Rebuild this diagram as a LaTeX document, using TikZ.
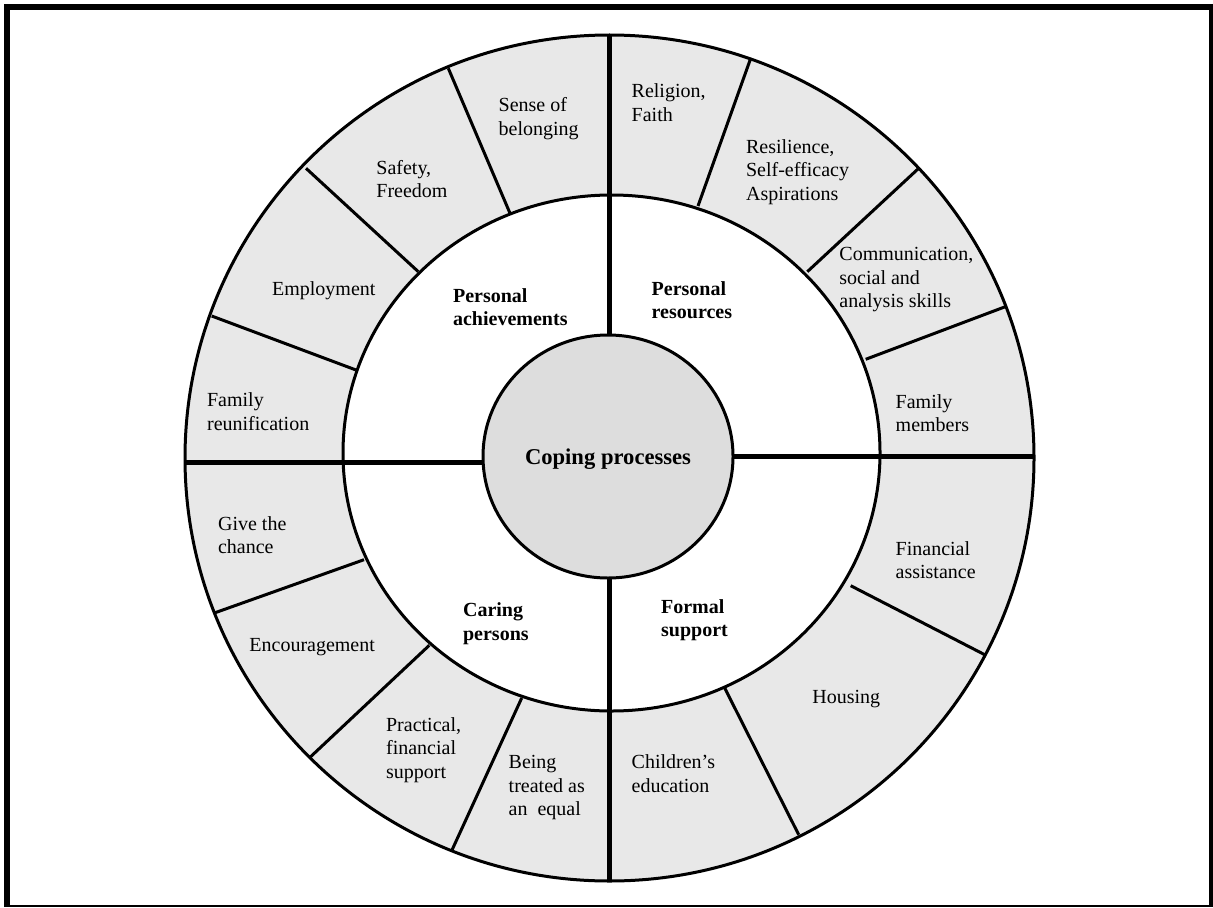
\documentclass[tikz,border=0pt]{standalone}
\usepackage{fontspec}
\setmainfont{Liberation Serif}
\usepackage{tikz}
\usetikzlibrary{shapes.geometric}
\definecolor{ringgray}{HTML}{E8E8E8}
\definecolor{coregray}{HTML}{DDDDDD}

\begin{document}
\begin{tikzpicture}[x=0.5pt,y=0.5pt,font=\fontsize{10}{11.75}\selectfont,
 lbl/.style={anchor=north west,align=left,inner sep=0pt},
 head/.style={lbl,font=\fontsize{10}{11.65}\selectfont\bfseries},
 rim/.style={line width=1.5pt},cut/.style={line width=1.5pt},axis/.style={line width=2.5pt}]
\path[use as bounding box] (0,0) rectangle (1213,907);
\draw[line width=3pt] (7,0.5)--(7,903);\draw[line width=3pt] (4,900)--(1213,900);
\draw[line width=2pt] (1211.3,903)--(1211.3,0.5);\draw[line width=0.85pt] (4,1.2)--(1213,1.2);
\fill[ringgray] (609.5,449) ellipse[x radius=424.5,y radius=423];
\fill[white] (611.5,454) ellipse[x radius=268.5,y radius=258];
\draw[axis] (609.5,872)--(609.5,26);
\draw[axis] (184,445)--(608,445);\draw[axis] (610,451)--(1034,451);
\draw[cut] (448.3,838.7)--(510,693.7);\draw[cut] (306,738.7)--(418.3,635.3);\draw[cut] (211.7,591)--(356,537);
\draw[cut] (750.7,848.7)--(698,701);\draw[cut] (918.7,738.7)--(807.3,635.3);\draw[cut] (1005.3,600.3)--(865.7,547.7);
\draw[cut] (214.3,294)--(364,347.3);\draw[cut] (310,149.7)--(429.3,261.7);\draw[cut] (451.7,56.3)--(521.7,209);
\draw[cut] (850.7,321.3)--(984.7,252.3);\draw[cut] (724.7,219)--(798.7,72.3);
\draw[rim] (609.5,449) ellipse[x radius=424.5,y radius=423];
\draw[rim] (611.5,454) ellipse[x radius=268.5,y radius=258];
\node[ellipse,draw,rim,fill=coregray,minimum width=125pt,minimum height=121.5pt,inner sep=0pt,text depth=0pt,
 font=\fontsize{11.3}{13}\selectfont\bfseries] (core) at (608,450.5) {Coping processes};
\node[lbl] (sense) at (498.3,809.7) {Sense of\\belonging};
\node[lbl] (safety) at (376,747.4) {Safety,\\Freedom};
\node[lbl] (employ) at (271.7,625.7) {Employment};
\node[lbl] (reunite) at (206.7,514.7) {Family\\reunification};
\node[head] (achieve) at (452.7,619) {Personal\\achievements};
\node[lbl] (faith) at (631.3,823.4) {Religion,\\Faith};
\node[lbl] (resil) at (745.7,768) {Resilience,\\Self-efficacy\\Aspirations};
\node[lbl] (skills) at (839,660) {Communication,\\social and\\analysis skills};
\node[head] (resource) at (651.3,625.7) {Personal\\resources};
\node[lbl] (members) at (895.3,513) {Family\\members};
\node[lbl] (chance) at (217.7,391) {Give the\\chance};
\node[lbl] (encour) at (249,269.4) {Encouragement};
\node[head] (caring) at (462.7,304.4) {Caring\\persons};
\node[lbl] (practical) at (385.7,190) {Practical,\\financial\\support};
\node[lbl] (equal) at (508.3,152) {Being\\treated as\\an~~equal};
\node[lbl] (finance) at (895.3,366) {Financial\\assistance};
\node[head] (formal) at (660.7,307.7) {Formal\\support};
\node[lbl] (housing) at (812,216.7) {Housing};
\node[lbl] (school) at (631.3,152.7) {Children’s\\education};
\end{tikzpicture}
\end{document}
